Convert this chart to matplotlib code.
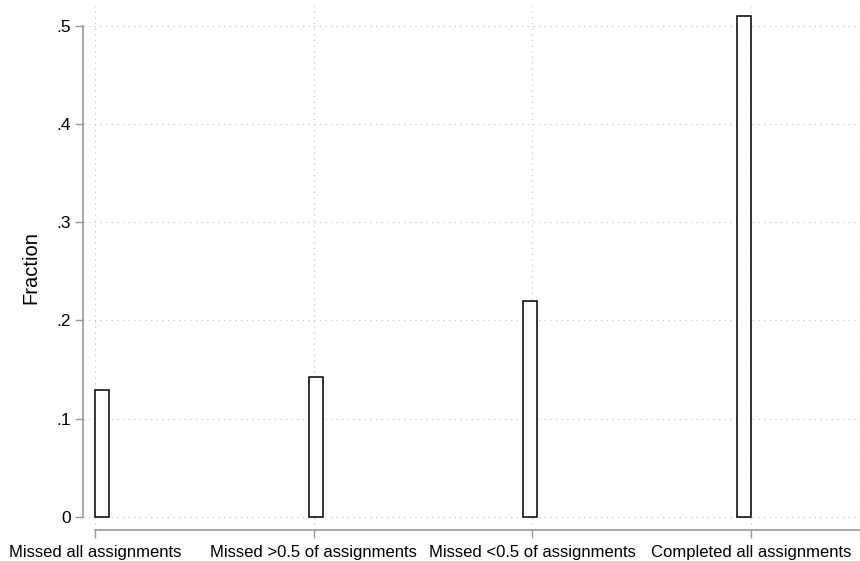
import numpy as np
import matplotlib
matplotlib.use("Agg")
import matplotlib.pyplot as plt
from matplotlib.ticker import FuncFormatter

plt.rcParams['font.family'] = ['Liberation Sans', 'DejaVu Sans']

categories = ["Missed all assignments", "Missed >0.5 of assignments",
              "Missed <0.5 of assignments", "Completed all assignments"]
fractions = [0.129, 0.142, 0.220, 0.510]
y_ticks = [0, 0.1, 0.2, 0.3, 0.4, 0.5]

W, H, DPI = 860, 561, 100
fig = plt.figure(figsize=(W / DPI, H / DPI), dpi=DPI)
fig.patch.set_facecolor("white")

# plot region in pixels
left, right, top, bottom = 83, 860, 6, 530
ax = fig.add_axes([left / W, 1 - bottom / H, (right - left) / W, (bottom - top) / H])

pos = np.arange(1, len(categories) + 1)
bar_w = 0.064
# bins spread so the first starts at the first category and the last ends at the last
lefts = np.linspace(pos[0], pos[-1] - bar_w, len(categories))
ax.bar(lefts, fractions, width=bar_w, align="edge", facecolor="white",
       edgecolor="black", linewidth=1.1, zorder=3)

ax.set_xlim(0.944, 4.5)
ax.set_ylim(-0.0135, 0.52)

grid_kw = dict(color="#c8c8c8", linestyle=(0, (1, 3.5)), linewidth=0.9, zorder=1)
for y in y_ticks:
    ax.axhline(y, **grid_kw)
for x in list(pos) + [4.5]:
    ax.axvline(x, **grid_kw)

ax.set_xticks(list(pos) + [4.5])
ax.set_xticklabels(categories + [""])
ax.set_yticks(y_ticks)
ax.yaxis.set_major_formatter(FuncFormatter(
    lambda v, _: "0" if abs(v) < 1e-9 else ("%.1f" % v).lstrip("0")))

for s in ["top", "right"]:
    ax.spines[s].set_visible(False)
axis_gray = "#999999"
ax.spines["left"].set_bounds(0, 0.5)
ax.spines["bottom"].set_bounds(1, 4.5)
for s in ["left", "bottom"]:
    ax.spines[s].set_color(axis_gray)
    ax.spines[s].set_linewidth(1.2)

ax.tick_params(axis="both", length=5.8, width=1.0, color=axis_gray,
               labelsize=12, labelcolor="black")
ax.tick_params(axis="x", pad=5)
ax.tick_params(axis="y", pad=3, labelsize=12.5)

ax.set_ylabel("Fraction", fontsize=14.5, labelpad=11)

fig.savefig("out.png", dpi=DPI, facecolor="white")
